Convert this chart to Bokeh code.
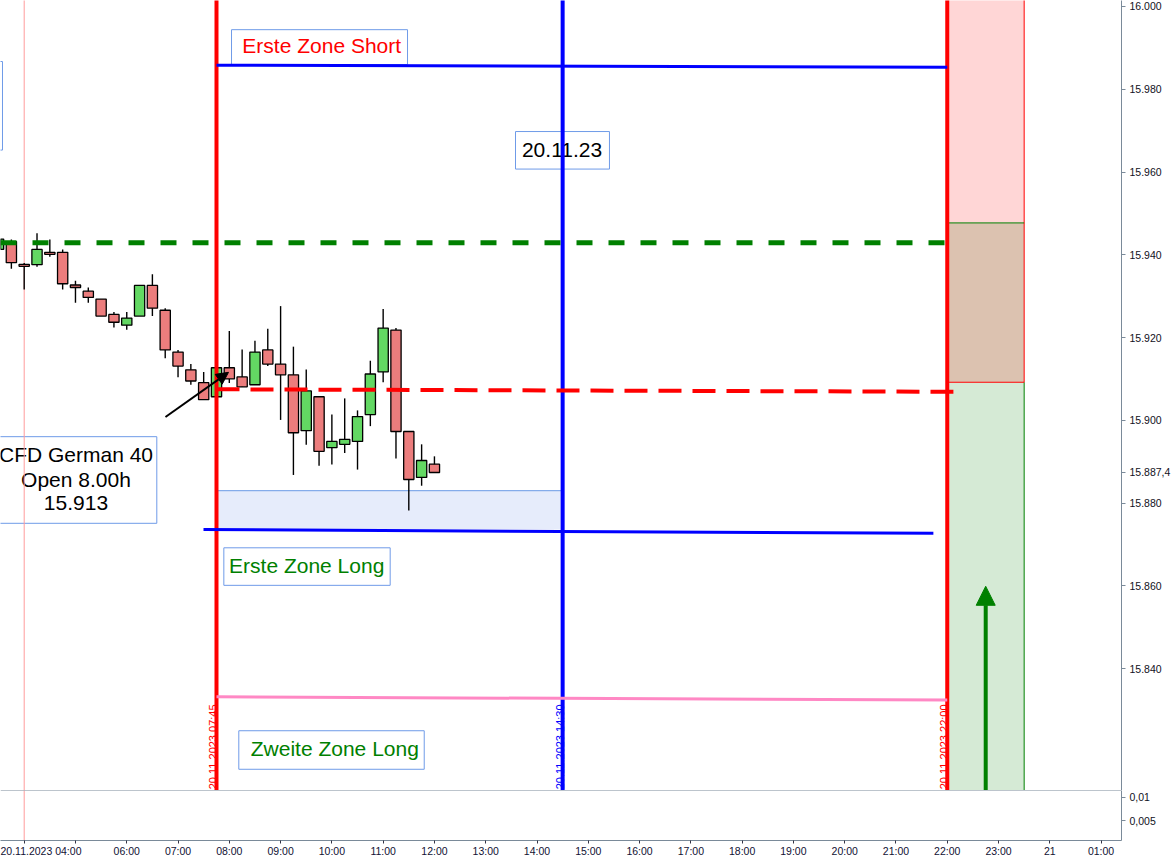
import math
from bokeh.plotting import figure
from bokeh.models import (Range1d, FixedTicker, CustomJSTickFormatter, Span,
                          Arrow, NormalHead, ColumnDataSource)
from bokeh.layouts import column
from bokeh.embed import file_html
from bokeh.resources import INLINE
from bokeh.core.properties import value

# ---------------- data ----------------
# 15-minute candles, time in hours of 20.11.2023
times = [3.50, 3.75, 4.00, 4.25, 4.50, 4.75, 5.00, 5.25, 5.50, 5.75,
         6.00, 6.25, 6.50, 6.75, 7.00, 7.25, 7.50, 7.75, 8.00, 8.25,
         8.50, 8.75, 9.00, 9.25, 9.50, 9.75, 10.00, 10.25, 10.50, 10.75,
         11.00, 11.25, 11.50, 11.75, 12.00]
opens = [15941.3, 15943.2, 15937.7, 15937.6, 15940.6, 15940.6, 15932.7, 15931.2, 15929.3, 15925.6,
         15923.0, 15925.2, 15932.6, 15926.6, 15916.5, 15912.2, 15909.1, 15905.7, 15912.7, 15910.5,
         15908.6, 15917.0, 15913.6, 15911.0, 15897.5, 15905.7, 15893.4, 15894.2, 15894.9, 15901.4,
         15911.7, 15921.8, 15897.3, 15886.2, 15889.4]
highs = [15944.5, 15943.7, 15938.0, 15945.2, 15943.7, 15941.3, 15933.7, 15932.1, 15929.3, 15926.2,
         15926.2, 15932.6, 15935.3, 15927.1, 15917.0, 15913.6, 15911.7, 15913.5, 15921.6, 15917.1,
         15919.2, 15922.1, 15927.6, 15917.8, 15912.3, 15905.7, 15901.4, 15905.3, 15902.4, 15914.4,
         15926.9, 15922.3, 15897.3, 15894.2, 15891.3]
lows = [15940.5, 15936.6, 15931.6, 15937.1, 15939.5, 15931.6, 15928.4, 15928.4, 15925.2, 15922.4,
        15921.9, 15925.2, 15925.2, 15915.0, 15910.4, 15908.6, 15905.0, 15905.0, 15909.0, 15908.1,
        15908.6, 15913.1, 15900.1, 15886.8, 15894.1, 15889.0, 15889.3, 15892.1, 15888.1, 15898.6,
        15909.2, 15890.8, 15878.2, 15884.2, 15887.4]
closes = [15943.8, 15938.1, 15937.2, 15941.3, 15940.1, 15933.0, 15932.1, 15929.7, 15925.2, 15923.7,
          15924.7, 15932.6, 15927.1, 15917.0, 15913.1, 15909.5, 15905.0, 15912.7, 15910.0, 15908.1,
          15916.5, 15913.6, 15911.0, 15897.0, 15907.1, 15892.5, 15894.9, 15895.4, 15900.9, 15911.2,
          15922.3, 15897.3, 15885.7, 15890.3, 15887.4]

price_ticks = [15840, 15860, 15880, 15900, 15920, 15940, 15960, 15980, 16000]
last_price = 15887.4
last_price_label = "15.887,4"
hour_ticks = list(range(4, 26))
cursor_label = "20.11.2023 04:00"
day_label = "21"
lower_ticks = [0.005, 0.01]

# vertical time markers
vline_times = [7.75, 14.5, 22.0]
vline_labels = ["20.11.2023 07:45", "20.11.2023 14:30", "20.11.2023 22:00"]
vline_colors = ["#ff0000", "#0000ff", "#ff0000"]

# horizontal levels (start value, end value)
short_zone_1 = (15985.8, 15985.3)      # blue, top
green_level = 15942.9                  # green dashed
open_level = (15907.5, 15906.9)        # red dashed
long_zone_1 = (15873.6, 15872.7)       # blue, lower
long_zone_2 = (15833.2, 15832.4)       # pink
long_box_top = 15883.0
long_box_bottom = 15873.6

# right-side zones
zone_top = 15947.7
zone_mid = 15909.2
arrow_tip = 15859.9

# text boxes: text, colour, text x/y, box left/right/bottom/top
box_texts = ["Erste Zone Short", "20.11.23", "Erste Zone Long", "Zweite Zone Long"]
box_colors = ["#ff0000", "#000000", "#008000", "#008000"]
box_tx = [9.802, 14.488, 9.509, 10.057]
box_ty = [15990.5, 15965.28, 15865.02, 15820.60]
box_l = [8.043, 13.581, 7.893, 8.185]
box_r = [11.475, 15.413, 11.137, 11.801]
box_b = [15985.97, 15960.71, 15860.13, 15815.69]
box_t = [15994.39, 15969.78, 15869.20, 15825.00]
cfd_lines = ["CFD German 40", "Open 8.00h", "15.913"]
cfd_ty = [15891.82, 15885.80, 15879.93]

# ---------------- layout ----------------
XSTART, XEND = 3.538, 25.398
YTOP, YBOT = 16001.44, 15810.56
YL0, YL1 = 0.0008, 0.01147
FW, FH_MAIN, FH_LOW = 1121, 790, 50
AXIS_COL = "#7a8a99"
FONT = "Liberation Sans"
BOXLINE = "#6f9be8"
PX_H = (XEND - XSTART) / FW   # hours per pixel

p = figure(frame_width=FW, frame_height=FH_MAIN, x_range=Range1d(XSTART, XEND),
           y_range=Range1d(YBOT, YTOP), output_backend="svg", toolbar_location=None,
           y_axis_location="right", x_axis_location=None)
p.min_border_left = 0
p.min_border_top = 0
p.min_border_bottom = 0
p.min_border_right = 45
p.outline_line_color = None
p.grid.grid_line_color = None
p.background_fill_color = "white"
p.border_fill_color = "white"

ya = p.yaxis[0]
ya.ticker = FixedTicker(ticks=price_ticks + [last_price])
ya.formatter = CustomJSTickFormatter(args=dict(lp=last_price, lpl=last_price_label), code="""
if (Math.abs(tick - lp) < 0.05) return lpl;
return (tick/1000).toFixed(3);
""")
ya.axis_line_color = AXIS_COL
ya.major_tick_line_color = AXIS_COL
ya.major_tick_in = 0
ya.major_tick_out = 4
ya.minor_tick_line_color = None
ya.major_label_standoff = 4
ya.major_label_text_font = FONT
ya.major_label_text_font_size = "10.5px"
ya.major_label_text_color = "#111122"

# partial box at top left
p.quad(left=[3.3], right=[3.577], top=[15986.7], bottom=[15965.3],
       fill_color="white", line_color=BOXLINE, line_width=1)

# light blue long box
p.quad(left=[vline_times[0]], right=[vline_times[1]], bottom=[long_box_bottom], top=[long_box_top],
       fill_color="#e6ecfb", line_color=None)
p.line([vline_times[0], vline_times[1]], [long_box_top, long_box_top], line_color="#6a9ae6", line_width=1)

# right-side zones
p.quad(left=[22.0], right=[23.5], bottom=[zone_top], top=[YTOP + 2], fill_color="#ffd6d6", line_color=None)
p.quad(left=[22.0], right=[23.5], bottom=[zone_mid], top=[zone_top], fill_color="#dcc2b0", line_color=None)
p.quad(left=[22.0], right=[23.5], bottom=[YBOT - 2], top=[zone_mid], fill_color="#d5ead5", line_color=None)
p.line([23.5, 23.5], [zone_mid, YTOP + 2], line_color="#ff0000", line_width=1)
p.line([23.5, 23.5], [YBOT - 2, zone_mid], line_color="#008000", line_width=1)
p.line([22.0, 23.5], [zone_top, zone_top], line_color="#008000", line_width=1)
p.line([22.0, 23.5], [zone_mid, zone_mid], line_color="#ff0000", line_width=1)

# text boxes
p.quad(left=box_l, right=box_r, bottom=box_b, top=box_t, fill_color="white",
       line_color=BOXLINE, line_width=1)
p.text(x=box_tx, y=box_ty, text=box_texts, text_color=box_colors, text_align="center",
       text_baseline="middle", text_font=value(FONT), text_font_size="21px")
p.quad(left=[3.3], right=[6.586], bottom=[15875.12], top=[15896.05], fill_color="white",
       line_color=BOXLINE, line_width=1)
p.text(x=[5.010] * 3, y=cfd_ty, text=cfd_lines, text_color="black", text_align="center",
       text_baseline="middle", text_font=value(FONT), text_font_size="21px")

# pink 04:00 crosshair line
p.line([4, 4], [YBOT - 1, YTOP + 1], line_color="#ff9c9c", line_width=1)

# candles
body_top = [max(o, c) for o, c in zip(opens, closes)]
body_bot = [min(o, c) for o, c in zip(opens, closes)]
body_col = ["#63d863" if c > o else "#ec7d7d" for o, c in zip(opens, closes)]
src = ColumnDataSource(dict(t=times, h=highs, l=lows, bt=body_top, bb=body_bot, col=body_col))
p.segment(x0="t", y0="h", x1="t", y1="l", source=src, line_color="black", line_width=1.4)
p.vbar(x="t", width=0.2, top="bt", bottom="bb", source=src, fill_color="col",
       line_color="black", line_width=1.3)

# vertical time lines
p.segment(x0=vline_times, y0=[YBOT - 1] * 3, x1=vline_times, y1=[YTOP + 1] * 3,
          line_color=vline_colors, line_width=4)

# horizontal levels
p.line([vline_times[0], 22.0], list(short_zone_1), line_color="#0000ff", line_width=3)
p.line([XSTART, 22.0], [green_level, green_level], line_color="#008000", line_width=5, line_dash="16 16")
p.line([vline_times[0], 22.12], list(open_level), line_color="#ff0000", line_width=4, line_dash="23 11")
p.line([7.497, 21.73], list(long_zone_1), line_color="#0000ff", line_width=3)
p.line([vline_times[0], 22.0], list(long_zone_2), line_color="#ff88c4", line_width=3)

# vertical date texts (left of each line, reading upwards)
p.text(x=[t - 3 * PX_H for t in vline_times], y=[YBOT + 0.3] * 3, text=vline_labels,
       angle=math.pi / 2, text_align="left", text_baseline="alphabetic",
       text_color=vline_colors, text_font=value(FONT), text_font_size="11px")

# arrows
p.add_layout(Arrow(end=NormalHead(size=19, fill_color="#008000", line_color="#008000"),
                   x_start=22.75, y_start=YBOT - 1, x_end=22.75, y_end=arrow_tip,
                   line_color="#008000", line_width=4))
p.add_layout(Arrow(end=NormalHead(size=12, fill_color="black", line_color="black"),
                   x_start=6.755, y_start=15900.8, x_end=7.984, y_end=15911.6,
                   line_color="black", line_width=2))

# ---------------- lower pane ----------------
p2 = figure(frame_width=FW, frame_height=FH_LOW, x_range=p.x_range, y_range=Range1d(YL0, YL1),
            output_backend="svg", toolbar_location=None, y_axis_location="right")
p2.min_border_left = 0
p2.min_border_top = 0
p2.min_border_right = 45
p2.min_border_bottom = 0
p2.outline_line_color = None
p2.grid.grid_line_color = None

ya2 = p2.yaxis[0]
ya2.ticker = FixedTicker(ticks=lower_ticks)
ya2.formatter = CustomJSTickFormatter(code='return tick.toString().replace(".", ",");')
ya2.axis_line_color = AXIS_COL
ya2.major_tick_line_color = AXIS_COL
ya2.major_tick_in = 0
ya2.major_tick_out = 4
ya2.minor_tick_line_color = None
ya2.major_label_standoff = 4
ya2.major_label_text_font = FONT
ya2.major_label_text_font_size = "10.5px"
ya2.major_label_text_color = "#111122"

xa = p2.xaxis[0]
xa.ticker = FixedTicker(ticks=hour_ticks)
xa.formatter = CustomJSTickFormatter(args=dict(cl=cursor_label, dl=day_label), code="""
const h = Math.round(tick);
if (h == 4) return cl;
if (h == 5) return "";
if (h == 24) return dl;
const hh = h % 24;
return (hh < 10 ? "0" : "") + hh + ":00";
""")
xa.axis_line_color = AXIS_COL
xa.major_tick_line_color = "#333344"
xa.major_tick_in = 0
xa.major_tick_out = 3
xa.minor_tick_line_color = None
xa.major_label_standoff = 1
xa.major_label_text_font = FONT
xa.major_label_text_font_size = "10.5px"
xa.major_label_text_color = "#111133"

p2.line([4, 4], [YL0 - 1, YL1 + 1], line_color="#ff9c9c", line_width=1)
p2.add_layout(Span(location=YL1, dimension="width", line_color=AXIS_COL, line_width=1))

layout = column(p, p2, spacing=0)
open("out.html", "w").write(file_html(layout, INLINE))
